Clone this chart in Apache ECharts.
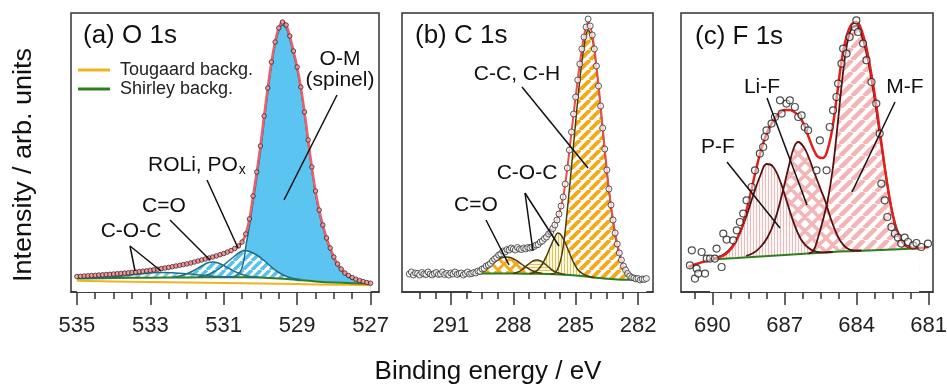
<!DOCTYPE html>
<html><head><meta charset="utf-8">
<script src="https://cdn.jsdelivr.net/npm/echarts@6/dist/echarts.min.js"></script>
<style>html,body{margin:0;padding:0;background:#fff}#c{width:947px;height:387px}</style>
</head><body><div id="c"></div>
<script>
// ---------- Panel (a) O 1s ----------
const aTicks = [535, 533, 531, 529, 527];
const aData = [[535.0,15.5],[534.9,15.7],[534.8,16.0],[534.7,16.2],[534.6,16.5],[534.5,16.7],[534.4,17.0],[534.3,17.2],[534.2,17.5],[534.1,17.7],[534.0,18.0],[533.9,18.3],[533.8,18.6],[533.7,18.9],[533.6,19.2],[533.5,19.6],[533.4,20.0],[533.3,20.4],[533.2,20.8],[533.1,21.2],[533.0,21.7],[532.9,22.2],[532.8,22.8],[532.7,23.4],[532.6,24.0],[532.5,24.6],[532.4,25.3],[532.3,26.0],[532.2,26.7],[532.1,27.4],[532.0,28.1],[531.9,29.0],[531.8,30.0],[531.7,31.0],[531.6,32.0],[531.5,33.0],[531.4,34.0],[531.3,35.0],[531.2,36.1],[531.1,37.3],[531.0,38.5],[530.9,40.0],[530.8,41.5],[530.7,43.5],[530.6,46.0],[530.5,50.0],[530.4,58.0],[530.3,73.0],[530.2,96.0],[530.1,120.0],[530.0,146.0],[529.9,176.0],[529.8,204.0],[529.7,230.0],[529.6,250.0],[529.5,264.0],[529.4,270.0],[529.3,267.0],[529.2,256.0],[529.1,241.0],[529.0,225.0],[528.9,205.0],[528.8,180.0],[528.7,152.0],[528.6,125.0],[528.5,101.0],[528.4,82.0],[528.3,67.0],[528.2,54.0],[528.1,44.0],[528.0,35.0],[527.9,28.0],[527.8,23.0],[527.7,19.0],[527.6,16.5],[527.5,14.5],[527.4,12.8],[527.3,11.5],[527.2,10.4],[527.1,9.5],[527.0,8.8]];
const aTougaard = [[535.0,11.2],[534.0,10.6],[533.0,10.1],[532.0,9.6],[531.0,9.1],[530.0,8.6],[529.0,7.9],[528.0,7.3],[527.0,6.8]];
const aShirley = [[535.0,13.5],[534.0,14.0],[533.0,14.3],[532.0,14.6],[531.0,14.8],[530.5,14.8],[530.0,14.5],[529.5,13.5],[529.0,12.0],[528.5,10.6],[528.0,9.5],[527.5,8.8],[527.0,8.4]];
const aCOC = [[534.6,14.1],[534.2,14.7],[533.8,15.8],[533.4,17.4],[533.0,18.9],[532.7,19.6],[532.4,19.3],[532.0,18.2],[531.6,16.7],[531.2,15.5],[530.8,14.9]];
const aCO = [[532.4,14.8],[532.2,16.0],[532.0,18.2],[531.8,21.8],[531.6,26.0],[531.45,29.0],[531.3,30.0],[531.15,29.0],[531.0,26.5],[530.8,22.5],[530.6,19.0],[530.4,16.5],[530.2,15.2],[530.0,14.6]];
const aROLi = [[531.7,15.0],[531.5,16.5],[531.3,19.5],[531.1,24.0],[530.9,30.0],[530.7,36.0],[530.55,40.0],[530.45,41.5],[530.3,40.5],[530.1,37.0],[529.9,31.5],[529.7,25.0],[529.5,19.5],[529.3,15.8],[529.1,13.5],[528.9,12.4]];
const aOM = [[531.0,14.9],[530.7,15.8],[530.55,20.0],[530.45,32.0],[530.4,45.0],[530.3,66.0],[530.2,90.0],[530.1,114.0],[530.0,140.0],[529.9,170.0],[529.8,199.0],[529.7,226.0],[529.6,247.0],[529.5,261.0],[529.4,267.0],[529.3,264.0],[529.2,253.0],[529.1,238.0],[529.0,222.0],[528.9,202.0],[528.8,177.0],[528.7,149.0],[528.6,122.0],[528.5,98.0],[528.4,79.0],[528.3,65.0],[528.2,52.0],[528.1,42.0],[528.0,33.5],[527.9,26.5],[527.8,21.5],[527.7,17.5],[527.6,15.0],[527.5,13.0],[527.4,11.5],[527.2,9.8],[527.0,8.6]];

// ---------- Panel (b) C 1s ----------
const bTicks = [291, 288, 285, 282];
const bData = [[293.0,18],[292.9,20],[292.8,17],[292.7,19],[292.6,18.5],[292.5,17],[292.4,19.5],[292.3,18],[292.2,17.5],[292.1,20],[292.0,18],[291.9,17],[291.8,18.5],[291.7,19.5],[291.6,17.5],[291.5,18],[291.4,20],[291.3,17.5],[291.2,18.5],[291.1,17],[291.0,19],[290.9,18],[290.8,20],[290.7,17.5],[290.6,18.5],[290.5,19],[290.4,17],[290.3,18.5],[290.2,20],[290.1,18],[290.0,18.5],[289.9,19.5],[289.8,19],[289.7,21],[289.6,20.5],[289.5,23],[289.4,23.5],[289.3,26],[289.2,27],[289.1,28.5],[289.0,31],[288.9,33],[288.8,34.5],[288.7,37],[288.6,38],[288.5,41],[288.4,40],[288.3,42.5],[288.2,42],[288.1,44],[288.0,43],[287.9,42],[287.8,44.5],[287.7,43],[287.6,42.5],[287.5,44],[287.4,43],[287.3,44.5],[287.2,44],[287.1,45],[287.0,45.5],[286.9,47],[286.8,47.5],[286.7,50],[286.6,51],[286.5,53.5],[286.4,55],[286.3,58],[286.2,60],[286.1,63.5],[286.0,67],[285.9,72],[285.8,78],[285.7,86],[285.6,95],[285.5,108],[285.4,124],[285.3,142],[285.2,160],[285.1,178],[285.0,195],[284.9,212],[284.8,228],[284.7,243],[284.6,255],[284.5,265],[284.4,273],[284.3,266],[284.2,257],[284.1,243],[284.0,226],[283.9,206],[283.8,186],[283.7,164],[283.6,143],[283.5,122],[283.4,103],[283.3,87],[283.2,72],[283.1,59],[283.0,48],[282.9,39],[282.8,32],[282.7,26],[282.6,22],[282.5,18.5],[282.4,16],[282.3,14.5],[282.2,14],[282.1,13],[282.0,13.5],[281.9,12],[281.8,13],[281.7,12.5],[281.6,13.5]];
const bFit = [[293.0,18.5],[292.0,18.5],[291.0,18.5],[290.2,18.6],[290.0,18.8],[289.8,19.5],[289.6,21],[289.4,23.5],[289.2,27],[289.0,30.5],[288.8,34.5],[288.6,38],[288.4,40.5],[288.2,42.2],[288.0,43],[287.8,43.4],[287.6,43.5],[287.4,43.7],[287.2,44.3],[287.0,45.5],[286.8,47.8],[286.6,51],[286.4,55.3],[286.2,60.5],[286.0,67],[285.8,78],[285.6,95],[285.4,124],[285.2,160],[285.0,195],[284.8,228],[284.6,255],[284.4,270],[284.2,257],[284.0,226],[283.8,186],[283.6,143],[283.4,103],[283.2,72],[283.0,48],[282.8,32],[282.6,22],[282.4,16.5],[282.2,14],[282.0,13],[281.8,12.8],[281.6,12.8]];
const bShirley = [[290.0,18.5],[289.0,18.5],[288.0,18.4],[287.0,18.2],[286.0,17.8],[285.5,17.3],[285.0,16.5],[284.5,15.5],[284.0,14.2],[283.5,13.2],[283.0,12.6],[282.5,12.3],[282.0,12.2],[281.6,12.2]];
const bCC = [[286.2,17.9],[286.0,19],[285.8,26],[285.6,45],[285.4,82],[285.2,125],[285.0,170],[284.8,212],[284.6,245],[284.4,262],[284.2,253],[284.0,224],[283.8,184],[283.6,141],[283.4,101],[283.2,70],[283.0,46],[282.8,30],[282.6,20],[282.4,15],[282.2,13],[282.0,12.3],[281.8,12.2]];
const bCOC1 = [[287.2,18.3],[287.0,19.5],[286.8,22.5],[286.6,28],[286.4,36],[286.2,46],[286.0,55],[285.85,59],[285.7,57],[285.5,49],[285.3,39],[285.1,29.5],[284.9,22.5],[284.7,18.8],[284.5,16.5],[284.3,15.2],[284.1,14.3]];
const bCOC2 = [[288.0,18.6],[287.8,19.8],[287.6,22],[287.4,25.5],[287.2,29],[287.0,31.5],[286.85,32],[286.7,31.3],[286.5,28.5],[286.3,25],[286.1,21.5],[285.9,19.5],[285.7,18.3],[285.5,17.5]];
const bCO = [[289.8,18.8],[289.6,20],[289.4,22],[289.2,25],[289.0,28.5],[288.8,31.5],[288.6,33.8],[288.4,35],[288.2,34.8],[288.0,33.3],[287.8,30.8],[287.6,27.8],[287.4,25],[287.2,22.5],[287.0,20.5],[286.8,19.3],[286.6,18.6]];

// ---------- Panel (c) F 1s ----------
const cTicks = [690, 687, 684, 681];
const cData = [[690.94,26.7],[690.86,41.7],[690.73,13.4],[690.66,23.4],[690.59,18.4],[690.45,40],[690.31,18.4],[690.24,33.4],[690.10,33.4],[689.90,33.4],[689.83,43.4],[689.62,25],[689.55,58.4],[689.41,52.4],[689.14,51.7],[688.99,61.7],[688.86,70],[688.72,78.4],[688.58,91.7],[688.37,105],[688.23,121.7],[688.03,138.4],[687.89,145],[687.82,155],[687.75,161.7],[687.54,168.4],[687.40,175],[687.19,191.7],[687.12,178.4],[686.92,188.4],[686.78,191.7],[686.57,185],[686.43,175],[686.29,176.7],[686.16,165],[686.02,161.7],[685.67,121.7],[685.53,151.7],[685.25,121.7],[685.12,165],[684.98,181.7],[684.84,195],[684.77,208.4],[684.63,228.4],[684.56,243.4],[684.42,238.4],[684.29,255],[684.08,265],[684.01,271.7],[683.94,260],[683.73,248.4],[683.59,231.7],[683.38,210],[683.18,188.4],[683.04,158.4],[682.97,108.4],[682.83,91.7],[682.72,75],[682.55,65],[682.41,58.4],[682.28,54.4],[682.14,48.4],[682.00,54.4],[681.86,50],[681.65,46.7],[681.51,49],[681.31,45],[681.03,48.4]];
const cFit = [[691.0,25],[690.6,28.5],[690.2,31.5],[689.8,34.5],[689.5,37],[689.2,44],[689.0,52],[688.8,63],[688.6,80],[688.4,100],[688.2,121],[688.0,140],[687.8,155],[687.6,166],[687.4,174],[687.2,179],[687.0,182],[686.8,182],[686.6,180],[686.4,176],[686.2,168],[686.0,155],[685.8,143],[685.6,135],[685.4,134],[685.2,143],[685.0,165],[684.8,200],[684.6,235],[684.4,257],[684.2,268],[684.0,270],[683.8,262],[683.6,245],[683.4,220],[683.2,190],[683.0,155],[682.8,120],[682.6,90],[682.4,68],[682.2,55],[682.0,48],[681.8,45],[681.6,44],[681.4,44],[681.2,44.5],[681.0,45]];
const cShirley = [[690.1,32.5],[689.0,34.0],[688.0,35.5],[687.0,37.0],[686.0,38.5],[685.0,40.0],[684.0,41.0],[683.0,42.0],[682.0,43.0],[681.4,43.6]];
const cPF = [[690.1,32.5],[689.8,34.5],[689.5,38],[689.2,45],[688.9,57],[688.6,75],[688.3,97],[688.0,117],[687.75,128],[687.5,126],[687.2,112],[686.9,90],[686.6,68],[686.3,52],[686.0,44],[685.7,40.5],[685.4,39.7],[685.0,40]];
const cLiF = [[688.6,36],[688.3,39],[688.0,45],[687.7,55],[687.4,72],[687.1,98],[686.8,128],[686.6,145],[686.43,150],[686.2,145],[686.0,135],[685.74,118],[685.5,103],[685.32,92],[685.1,75],[684.9,62],[684.7,52],[684.42,44],[684.1,41.5],[683.8,41.5]];
const cMF = [[686.0,38.6],[685.8,41],[685.6,55],[685.4,72],[685.2,92],[685.0,122],[684.8,165],[684.6,212],[684.4,248],[684.2,264],[684.0,266],[683.8,257],[683.6,240],[683.4,215],[683.2,185],[683.0,152],[682.8,120],[682.6,90],[682.4,68],[682.2,54],[682.0,47],[681.7,44],[681.4,43.8]];

// ---------- helpers ----------
const FONT = "'Liberation Sans', Arial, Helvetica, sans-serif";
function mk(s, bg, draw) {
  const c = document.createElement('canvas'); c.width = s; c.height = s;
  const g = c.getContext('2d'); g.fillStyle = bg; g.fillRect(0, 0, s, s); draw(g, s);
  return { image: c, repeat: 'repeat' };
}
function diag(color, s, w, bg) {
  return mk(s, bg, (g, s) => { g.strokeStyle = color; g.lineWidth = w; g.beginPath();
    for (const o of [-s, 0, s]) { g.moveTo(o, s); g.lineTo(o + s, 0); } g.stroke(); });
}
function cross(color, s, w, bg) {
  return mk(s, bg, (g, s) => { g.strokeStyle = color; g.lineWidth = w; g.beginPath();
    for (const o of [-s, 0, s]) { g.moveTo(o, s); g.lineTo(o + s, 0); g.moveTo(o, 0); g.lineTo(o + s, s); } g.stroke(); });
}
function vlin(color, s, w, bg) { return mk(s, bg, (g, s) => { g.fillStyle = color; g.fillRect(0, 0, w, s); }); }
function hlin(color, s, w, bg) { return mk(s, bg, (g, s) => { g.fillStyle = color; g.fillRect(0, 0, s, w); }); }

function fill(i, data, color) {
  return { type: 'line', xAxisIndex: i, yAxisIndex: i, data, smooth: 0.4, symbol: 'none', silent: true,
    lineStyle: { width: 0, opacity: 0 }, areaStyle: { color, opacity: 1 }, z: 1 };
}
function mask(i, data) {
  return { type: 'line', xAxisIndex: i, yAxisIndex: i, data, smooth: 0.4, symbol: 'none', silent: true,
    lineStyle: { width: 0, opacity: 0 }, areaStyle: { color: '#fff', opacity: 1 }, z: 2 };
}
function line(i, data, color, width, z, name) {
  const s = { type: 'line', xAxisIndex: i, yAxisIndex: i, data, smooth: 0.4, symbol: 'none', silent: true,
    color, itemStyle: { color }, lineStyle: { color, width }, z };
  if (name) s.name = name;
  return s;
}
function dots(i, data, size, fillC, border, bw) {
  return { type: 'scatter', xAxisIndex: i, yAxisIndex: i, data, symbol: 'circle', symbolSize: size, silent: true,
    itemStyle: { color: fillC, borderColor: border, borderWidth: bw }, z: 5 };
}
function range(a, b, step) { const r = []; for (let v = a; v >= b - 1e-9; v -= step) r.push(+v.toFixed(2)); return r; }

const grids = [
  { left: 71, top: 13, width: 308, height: 279 },
  { left: 402, top: 13, width: 251, height: 279 },
  { left: 681, top: 13, width: 252, height: 279 }
];
const xr = [[526.77, 535.16], [281.28, 293.35], [680.82, 691.31]];
const majors = [aTicks, bTicks, cTicks];
const minors = [range(535, 527, 0.5), range(292.5, 281.5, 0.75), range(690.75, 681, 0.75)];

const xAxis = [], yAxis = [];
for (let i = 0; i < 3; i++) {
  xAxis.push({ gridIndex: i, type: 'value', position: 'bottom', min: xr[i][0], max: xr[i][1], inverse: true,
    axisLine: { show: true, onZero: false, lineStyle: { color: '#333', width: 1.5 } },
    axisTick: { show: true, inside: false, length: 13, customValues: majors[i], lineStyle: { color: '#333', width: 1.5 } },
    axisLabel: { show: true, customValues: majors[i], fontSize: 22, color: '#222', fontFamily: FONT, margin: 23, hideOverlap: false },
    splitLine: { show: false } });
}
for (let i = 0; i < 3; i++) {
  xAxis.push({ gridIndex: i, type: 'value', position: 'bottom', min: xr[i][0], max: xr[i][1], inverse: true,
    axisLine: { show: false },
    axisTick: { show: true, inside: false, length: 7, customValues: minors[i], lineStyle: { color: '#333', width: 1.5 } },
    axisLabel: { show: false, customValues: minors[i] }, splitLine: { show: false } });
}
for (let i = 0; i < 3; i++) yAxis.push({ gridIndex: i, type: 'value', min: 0, max: 279, show: false });

const blueH = diag('#56C0EE', 9, 3.5, '#ffffff');
const series = [
  // panel a
  fill(0, aOM, '#5BC4F1'), fill(0, aROLi, blueH), fill(0, aCO, blueH), fill(0, aCOC, diag('#7FCCE0', 9, 3, '#ffffff')),
  mask(0, aShirley),
  line(0, aTougaard, '#F0B323', 2, 3, 'Tougaard backg.'),
  line(0, aShirley, '#2E7D1F', 2, 3, 'Shirley backg.'),
  line(0, aOM, '#1F6E8C', 1.5, 3), line(0, aROLi, '#1F6E8C', 1.5, 3), line(0, aCO, '#1F6E8C', 1.5, 3), line(0, aCOC, '#1F6E8C', 1.5, 3),
  line(0, aData, '#E8606A', 2.5, 4),
  dots(0, aData, 4.5, '#eea0a6', '#4a2020', 1),
  // panel b
  fill(1, bCC, diag('#F2A91C', 10, 4, '#ffffff')), fill(1, bCOC1, vlin('#D6C268', 3, 1, '#FFF9DC')),
  fill(1, bCOC2, hlin('#D6C268', 3, 1, '#FFF9DC')), fill(1, bCO, cross('#F2A91C', 12, 3, '#ffffff')),
  mask(1, bShirley),
  line(1, bShirley, '#2E7D1F', 2, 3),
  line(1, bCC, '#4D3B0A', 1.5, 3), line(1, bCOC1, '#4D3B0A', 1.5, 3), line(1, bCOC2, '#4D3B0A', 1.5, 3), line(1, bCO, '#4D3B0A', 1.5, 3),
  line(1, bFit, '#E8504A', 2, 4),
  dots(1, bData, 6, 'rgba(255,255,255,0.9)', '#333', 1),
  // panel c
  fill(2, cMF, diag('#F3B5B6', 12, 4.5, '#ffffff')), fill(2, cLiF, cross('#F3B5B6', 14, 3.5, '#ffffff')),
  fill(2, cPF, vlin('#E6BDBD', 3, 1, '#FFF7F7')),
  mask(2, cShirley),
  line(2, cShirley, '#2E7D1F', 2, 3),
  line(2, cMF, '#5A0F0F', 1.8, 3), line(2, cLiF, '#5A0F0F', 1.8, 3), line(2, cPF, '#5A0F0F', 1.8, 3),
  line(2, cFit, '#E0201C', 2.5, 4),
  dots(2, cData, 7, 'rgba(255,255,255,0.6)', '#222', 1.2)
];

function txt(x, y, t, size, align) {
  return { type: 'text', silent: true, z: 100, style: { text: t, x, y, fill: '#111', font: size + 'px ' + FONT, align: align || 'center', verticalAlign: 'middle' } };
}
function ln(x1, y1, x2, y2) {
  return { type: 'line', silent: true, z: 100, shape: { x1, y1, x2, y2 }, style: { stroke: '#111', lineWidth: 1.5 } };
}
const graphic = [
  txt(83, 36, '(a) O 1s', 26, 'left'), txt(415, 36, '(b) C 1s', 26, 'left'), txt(695, 37, '(c) F 1s', 26, 'left'),
  // panel a annotations
  { type: 'text', silent: true, z: 100, style: { text: 'O-M\n(spinel)', x: 340, y: 70, fill: '#111', font: '21px ' + FONT, align: 'center', verticalAlign: 'middle', lineHeight: 21 } },
  ln(337, 95, 284, 200),
  { type: 'text', silent: true, z: 100, style: { text: '{m|ROLi, PO}{s|x}', x: 148, y: 165, align: 'left', verticalAlign: 'middle',
      rich: { m: { font: '21px ' + FONT, fill: '#111' }, s: { font: '14px ' + FONT, fill: '#111', padding: [10, 0, 0, 1] } } } },
  ln(207, 180, 238, 248),
  txt(164, 206, 'C=O', 21), ln(170, 220, 210, 260),
  txt(131, 231, 'C-O-C', 21), ln(130, 246, 135, 271), ln(130, 246, 161, 271),
  // panel b annotations
  txt(517, 74, 'C-C, C-H', 21), ln(522, 87, 588, 168),
  txt(527, 173, 'C-O-C', 21), ln(525, 193, 533, 251), ln(525, 193, 559, 246),
  txt(476, 205, 'C=O', 21), ln(486, 220, 509, 265),
  // panel c annotations
  txt(762, 87, 'Li-F', 21), ln(767, 98, 807, 205),
  txt(718, 147, 'P-F', 21), ln(727, 162, 780, 228),
  txt(905, 87, 'M-F', 21), ln(895, 102, 852, 192),
  // axis titles
  txt(488, 372, 'Binding energy / eV', 26),
  { type: 'text', silent: true, z: 100, x: 24, y: 165, rotation: Math.PI / 2, scaleX: 1.08,
    style: { text: 'Intensity / arb. units', x: 0, y: 0, fill: '#111', font: '25px ' + FONT, align: 'center', verticalAlign: 'middle' } }
];

const chart = echarts.init(document.getElementById('c'), null, { renderer: 'canvas' });
chart.setOption({
  animation: false,
  backgroundColor: '#fff',
  grid: grids.map(g => Object.assign({ show: true, borderColor: '#333', borderWidth: 1.5, backgroundColor: 'transparent', containLabel: false, outerBoundsMode: 'none' }, g)),
  xAxis, yAxis, series, graphic,
  legend: { data: ['Tougaard backg.', 'Shirley backg.'], orient: 'vertical', left: 78, top: 61, padding: 0,
    itemWidth: 32, itemHeight: 3, itemGap: 1, icon: 'rect', selectedMode: false,
    textStyle: { fontSize: 18, color: '#222', fontFamily: FONT, padding: [0, 0, 0, 5] } }
});
</script></body></html>
